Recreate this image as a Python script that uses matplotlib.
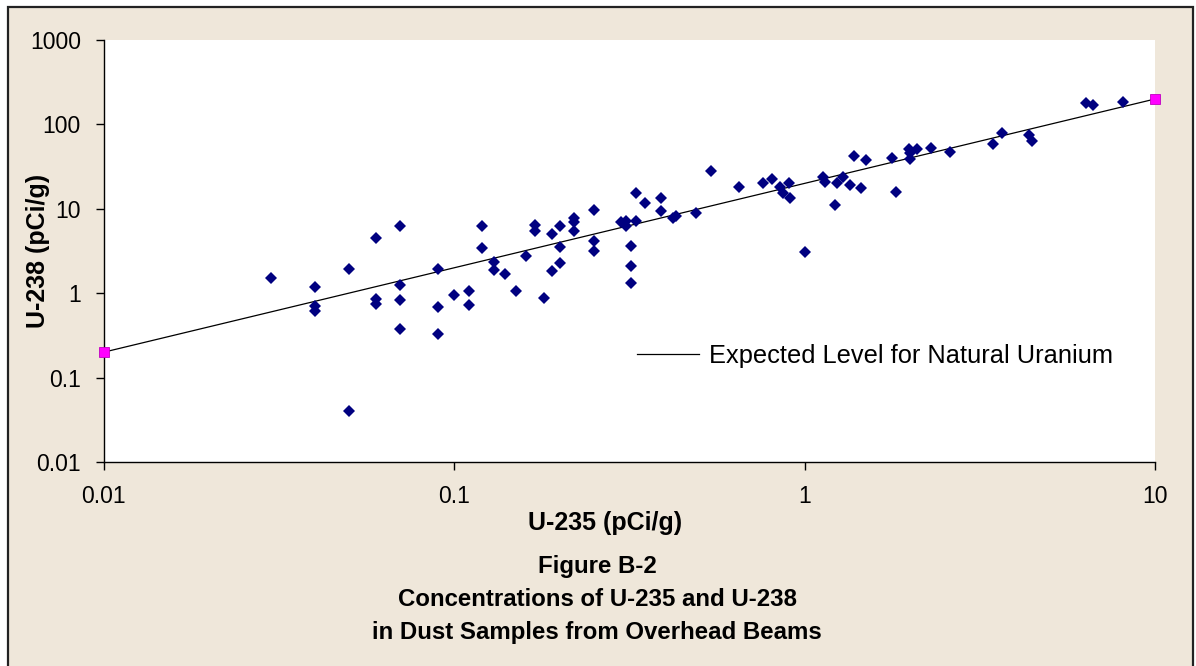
import matplotlib
matplotlib.use("Agg")
import matplotlib.pyplot as plt
from matplotlib.patches import Rectangle
from matplotlib.lines import Line2D
from matplotlib.ticker import FixedLocator, FixedFormatter, NullLocator

plt.rcParams['font.family'] = ['Liberation Sans', 'DejaVu Sans']

# ---- data ----
u235 = [0.03, 0.04, 0.04, 0.04, 0.05, 0.05, 0.06, 0.06, 0.06,
        0.07, 0.07, 0.07, 0.07, 0.09, 0.09, 0.09, 0.10, 0.11, 0.11,
        0.12, 0.12, 0.13, 0.13, 0.14, 0.15, 0.16, 0.17, 0.17, 0.18,
        0.19, 0.19, 0.20, 0.20, 0.20, 0.22, 0.22, 0.22, 0.25, 0.25, 0.25,
        0.30, 0.31, 0.31, 0.32, 0.32, 0.32, 0.33, 0.33, 0.35, 0.39, 0.39,
        0.42, 0.43, 0.49, 0.54, 0.65, 0.76, 0.81, 0.85, 0.87, 0.90, 0.91,
        1.00, 1.13, 1.14, 1.24, 1.22, 1.29, 1.35, 1.38, 1.45, 1.50,
        1.78, 1.82, 1.98, 2.00, 2.00, 2.10, 2.30, 2.60, 3.46, 3.66,
        4.36, 4.45, 6.36, 6.67, 8.12]
u238 = [1.53, 1.20, 0.70, 0.61, 1.96, 0.040, 4.5, 0.86, 0.75,
        6.2, 1.24, 0.82, 0.38, 1.91, 0.69, 0.33, 0.94, 1.05, 0.73,
        6.2, 3.45, 2.33, 1.87, 1.69, 1.05, 2.74, 6.5, 5.5, 0.88,
        5.0, 1.83, 6.2, 3.5, 2.3, 7.7, 6.95, 5.4, 9.75, 4.1, 3.18,
        6.95, 7.1, 6.2, 3.6, 2.09, 1.33, 15.6, 7.1, 11.6, 13.4, 9.4,
        7.8, 8.2, 8.8, 27.8, 18.3, 20.4, 22.8, 18.3, 15.5, 20.0, 13.3,
        3.06, 24.0, 21.0, 20.4, 11.0, 24.0, 19.0, 42.3, 17.8, 38.3,
        39.7, 15.8, 51.7, 46.4, 38.6, 50.7, 52.6, 47.1, 58.6, 80.0,
        75.8, 64.4, 178.6, 172.0, 185.0]

expected_x = [0.01, 10]
expected_y = [0.2, 200]
expected_label = "Expected Level for Natural Uranium"

x_ticks = [0.01, 0.1, 1, 10]
x_ticklabels = ["0.01", "0.1", "1", "10"]
y_ticks = [0.01, 0.1, 1, 10, 100, 1000]
y_ticklabels = ["0.01", "0.1", "1", "10", "100", "1000"]

xlabel = "U-235 (pCi/g)"
ylabel = "U-238 (pCi/g)"
title_lines = ["Figure B-2", "Concentrations of U-235 and U-238",
               "in Dust Samples from Overhead Beams"]

# ---- figure ----
W, H = 1196, 666
fig = plt.figure(figsize=(W / 100, H / 100), dpi=100, facecolor='white')

bg = '#EFE7DA'
fig.patches.append(Rectangle((8 / W, -0.02), (1193 - 8) / W, (H - 7) / H + 0.02,
                             transform=fig.transFigure, facecolor=bg,
                             edgecolor='#222222', linewidth=1.6, zorder=-10))

left, right, top, bottom = 103.7, 1155, 40, 462
ax = fig.add_axes([left / W, 1 - bottom / H, (right - left) / W, (bottom - top) / H])
ax.set_zorder(1)
ax.set_facecolor('white')

ax.plot(expected_x, expected_y, color='black', lw=0.9, zorder=2)
ax.plot(expected_x, expected_y, linestyle='none', marker='s', markersize=6.5,
        markerfacecolor='#FF00FF', markeredgecolor='#C000C0', markeredgewidth=0.6,
        zorder=4, clip_on=False)
ax.plot(u235, u238, linestyle='none', marker='D', markersize=6.3,
        color='#000080', markeredgewidth=0, zorder=3)

ax.set_xscale('log')
ax.set_yscale('log')
ax.set_xlim(0.01, 10)
ax.set_ylim(0.01, 1000)

ax.xaxis.set_major_locator(FixedLocator(x_ticks))
ax.xaxis.set_major_formatter(FixedFormatter(x_ticklabels))
ax.yaxis.set_major_locator(FixedLocator(y_ticks))
ax.yaxis.set_major_formatter(FixedFormatter(y_ticklabels))
ax.xaxis.set_minor_locator(NullLocator())
ax.yaxis.set_minor_locator(NullLocator())

for s in ['top', 'right']:
    ax.spines[s].set_visible(False)
for s in ['left', 'bottom']:
    ax.spines[s].set_color('black')
    ax.spines[s].set_linewidth(1.0)

ax.tick_params(axis='both', which='major', direction='out', length=5.5, width=1.0,
               color='black', labelsize=16.5, labelcolor='black', pad=11)

# legend (line only)
handle = Line2D([], [], color='black', lw=0.9)
leg = fig.legend([handle], [expected_label], loc='center left',
                 bbox_to_anchor=(637 / W, 1 - 356 / H), frameon=False,
                 fontsize=18.3, handlelength=2.45, handletextpad=0.4,
                 borderpad=0, borderaxespad=0)
leg.set_zorder(5)

# axis titles
fig.text(605 / W, 1 - 523 / H, xlabel, ha='center', va='center',
         fontsize=18, fontweight='bold')
fig.text(38 / W, 1 - 251 / H, ylabel, ha='center', va='center', rotation=90,
         fontsize=18, fontweight='bold')

# chart title
for line, yc in zip(title_lines, [566, 600, 632]):
    fig.text(597 / W, 1 - yc / H, line, ha='center', va='center',
             fontsize=17.3, fontweight='bold')

fig.savefig('out.png', dpi=100, facecolor='white')
